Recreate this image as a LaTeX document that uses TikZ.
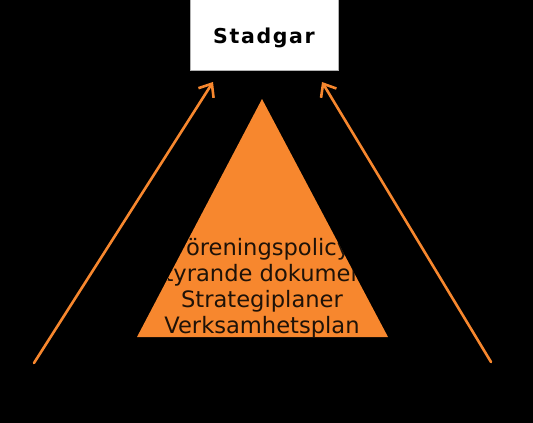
\documentclass[tikz,border=0pt]{standalone}
\usepackage{fontspec}
\setmainfont{DejaVu Sans}
\usetikzlibrary{arrows.meta}
\definecolor{orng}{RGB}{247,135,46}
\definecolor{txtdark}{RGB}{30,18,8}
\tikzset{
  x=1pt, y=-1pt,
  boxstyle/.style={draw=gray!60, line width=0.8pt, fill=white, minimum width=148pt, minimum height=72pt, inner sep=0pt},
  arrowline/.style={draw=orng, line width=2.6pt, line cap=round, -{Straight Barb[length=11pt, width=18pt, line width=2.6pt]}},
  tritext/.style={text=txtdark, anchor=base, inner sep=0pt, font=\fontsize{22.6}{26}\selectfont}
}
\begin{document}
\begin{tikzpicture}
\fill[black] (0,0) rectangle (533,423);
\useasboundingbox (0,0) rectangle (533,423);
% box
\node[boxstyle] (stadgar) at (264,34) {};
\node[anchor=base, inner sep=0pt, font=\bfseries\fontsize{20.5}{24}\selectfont\addfontfeatures{LetterSpace=8}] (stadgartext) at (264,43) {Stadgar};
% triangle
\fill[orng] (262,99) -- (388,337) -- (137,337) -- cycle;
\begin{scope}
\clip (262,99) -- (388,337) -- (137,337) -- cycle;
\node[tritext] (l1) at (262,255) {Föreningspolicy};
\node[tritext] (l2) at (262,281.5) {Styrande dokument};
\node[tritext] (l3) at (262,307.5) {Strategiplaner};
\node[tritext] (l4) at (262,333) {Verksamhetsplan};
\end{scope}
% arrows
\coordinate (lt) at (34,363);
\coordinate (lh) at (213,82);
\coordinate (rt) at (491,362);
\coordinate (rh) at (322,82);
\draw[arrowline] (lt) -- (lh);
\draw[arrowline] (rt) -- (rh);
\end{tikzpicture}
\end{document}
